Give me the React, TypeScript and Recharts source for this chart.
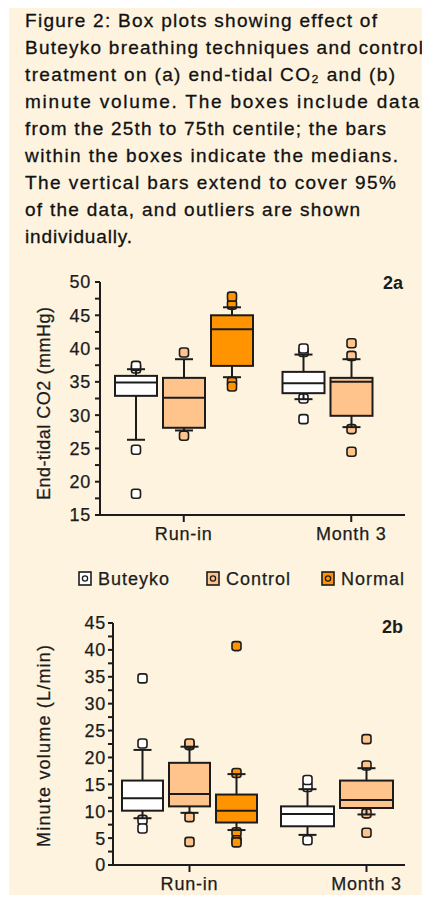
import React from 'react';
import { ComposedChart, Bar, XAxis, YAxis } from 'recharts';

const FONT = '"Liberation Sans", Arial, Helvetica, sans-serif';
const INK = '#1c1c1c';
const PANEL = '#FDF3DE';

const categories = ['Run-in', 'Month 3'];
const groups = ['Buteyko', 'Control', 'Normal'];
const groupFills = ['#FFFFFF', '#FFC38C', '#FF9400'];

// Caption text (one entry per printed line)
const captionLines = [
  'Figure 2: Box plots showing effect of',
  'Buteyko breathing techniques and control',
  'treatment on (a) end-tidal CO\u2082 and (b)',
  'minute volume. The boxes include data',
  'from the 25th to 75th centile; the bars',
  'within the boxes indicate the medians.',
  'The vertical bars extend to cover 95%',
  'of the data, and outliers are shown',
  'individually.',
];
const captionWidths = [352, 398, 370, 394, 361, 373, 371, 335, 107];

// 2a End-tidal CO2 (mmHg): [whisker low, Q1, median, Q3, whisker high] per category
const co2Buteyko = [[26.3, 32.9, 34.9, 35.9, 36.9], [32.4, 33.3, 34.8, 36.5, 39.1]];
const co2Control = [[27.7, 28.1, 32.6, 35.6, 38.4], [28.2, 29.9, 35.0, 35.6, 38.4]];
const co2Normal = [[35.7, 37.4, 42.9, 45.0, 46.2], null];
const co2ButeykoOutliers = [[37.0, 37.4, 24.8, 18.2], [39.5, 40.0, 32.5, 29.4]];
const co2ControlOutliers = [[39.4, 26.9], [38.9, 40.8, 27.9, 24.5]];
const co2NormalOutliers = [[46.6, 47.8, 35.0, 34.3], []];
const co2Ticks = [15, 17.5, 20, 22.5, 25, 27.5, 30, 32.5, 35, 37.5, 40, 42.5, 45, 47.5, 50];

// 2b Minute volume (L/min)
const mvButeyko = [[8.7, 10.1, 12.4, 15.7, 21.4], [5.6, 7.2, 9.5, 10.9, 14.1]];
const mvControl = [[9.7, 10.9, 13.2, 19.0, 22.0], [9.4, 10.6, 12.1, 15.7, 18.0]];
const mvNormal = [[6.5, 7.9, 10.1, 13.1, 16.9], null];
const mvButeykoOutliers = [[22.6, 34.7, 8.4, 6.8], [14.5, 15.8, 4.6]];
const mvControlOutliers = [[22.3, 22.6, 8.9, 4.3], [18.5, 23.4, 9.6, 6.0]];
const mvNormalOutliers = [[17.1, 40.7, 6.1, 4.6, 4.2], []];
const mvTicks = [0, 2.5, 5, 7.5, 10, 12.5, 15, 17.5, 20, 22.5, 25, 27.5, 30, 32.5, 35, 37.5, 40, 42.5, 45];

type Stats = number[] | null;

function buildRows(stats: Stats[][], outliers: number[][][]) {
  return categories.map((cat, ci) => {
    const row: any = { cat };
    groups.forEach((g, gi) => {
      const s = stats[gi][ci];
      row[g] = s ? [s[1], s[3]] : null;
      row[g + '_s'] = s;
      row[g + '_o'] = outliers[gi][ci] || [];
    });
    return row;
  });
}

const co2Rows = buildRows([co2Buteyko, co2Control, co2Normal], [co2ButeykoOutliers, co2ControlOutliers, co2NormalOutliers]);
const mvRows = buildRows([mvButeyko, mvControl, mvNormal], [mvButeykoOutliers, mvControlOutliers, mvNormalOutliers]);

function BoxPlotShape(props: any) {
  const { x, y, width, height, payload, group, active } = props;
  if (!active || !payload) return <g />;
  const s = payload[groups[group] + '_s'];
  if (!s || x == null || y == null) return <g />;
  const outs: number[] = payload[groups[group] + '_o'] || [];
  const [lo, q1, med, q3, hi] = s;
  const top = Math.min(y, y + height);
  const bot = Math.max(y, y + height);
  const toPx = (v: number) => bot - ((v - q1) / (q3 - q1)) * (bot - top);
  const cx = x + width / 2;
  const fill = groupFills[group];
  const cap = 9;
  const o = 4.5;
  return (
    <g>
      {outs.map((v, i) => (
        <rect key={i} x={cx - o} y={toPx(v) - o} width={o * 2} height={o * 2} rx={2.5} fill={fill} stroke={INK} strokeWidth={1.6} />
      ))}
      <line x1={cx} x2={cx} y1={toPx(hi)} y2={top} stroke={INK} strokeWidth={2} />
      <line x1={cx} x2={cx} y1={bot} y2={toPx(lo)} stroke={INK} strokeWidth={2} />
      <line x1={cx - cap} x2={cx + cap} y1={toPx(hi)} y2={toPx(hi)} stroke={INK} strokeWidth={2} />
      <line x1={cx - cap} x2={cx + cap} y1={toPx(lo)} y2={toPx(lo)} stroke={INK} strokeWidth={2} />
      <rect x={x} y={top} width={width} height={bot - top} fill={fill} stroke={INK} strokeWidth={2} />
      <line x1={x} x2={x + width} y1={toPx(med)} y2={toPx(med)} stroke={INK} strokeWidth={2} />
    </g>
  );
}

const axisTitle = (text: string, length: number, xPos: number, shift: number) => (props: any) => {
  const vb = props.viewBox || {};
  const cy = (vb.y ?? 0) + (vb.height ?? 0) / 2 + shift;
  return (
    <text
      x={xPos}
      y={cy}
      transform={`rotate(-90 ${xPos} ${cy})`}
      textAnchor="middle"
      textLength={length}
      lengthAdjust="spacing"
      fontSize={18}
      fontFamily={FONT}
      fill={INK}
      stroke={INK}
      strokeWidth={0.25}
    >
      {text}
    </text>
  );
};

type AxisDef = { id: string; cats: string[]; barSize: number; visible: boolean };

function Panel(props: {
  rows: any[];
  top: number;
  height: number;
  margin: any;
  yWidth: number;
  yDomain: number[];
  yTicks: number[];
  padding: { left: number; right: number };
  axes: AxisDef[];
  title: string;
  titleLength: number;
  titleShift: number;
  tickMarginY: number;
}) {
  const { rows, top, height, margin, yWidth, yDomain, yTicks, padding, axes, title, titleLength, titleShift, tickMarginY } = props;
  const axisStyle = { stroke: INK, strokeWidth: 2 };
  const tickFont = { fill: INK, fontSize: 18, fontFamily: FONT, letterSpacing: 0.8, stroke: INK, strokeWidth: 0.25 };
  return (
    <div style={{ position: 'absolute', left: 0, top, width: 430, height }}>
      <ComposedChart width={430} height={height} data={rows} margin={margin} barGap={6}>
        {axes.map((ax) => (
          <XAxis
            key={ax.id}
            xAxisId={ax.id}
            dataKey="cat"
            type="category"
            hide={!ax.visible}
            padding={padding}
            interval={0}
            height={ax.visible ? 30 : 0}
            tickSize={7}
            tickMargin={5}
            axisLine={axisStyle}
            tickLine={axisStyle}
            tick={tickFont}
          />
        ))}
        <YAxis
          type="number"
          domain={yDomain}
          ticks={yTicks}
          interval={0}
          width={yWidth}
          tickSize={5}
          tickMargin={tickMarginY}
          axisLine={axisStyle}
          tickLine={axisStyle}
          tick={tickFont}
          tickFormatter={(v: number) => (v % 5 === 0 ? String(v) : '')}
          label={axisTitle(title, titleLength, 50, titleShift)}
        />
        {axes.flatMap((ax) =>
          groups.map((g, gi) => (
            <Bar
              key={ax.id + g}
              xAxisId={ax.id}
              dataKey={(r: any) => (ax.cats.includes(r.cat) ? r[g] : null)}
              barSize={ax.barSize}
              isAnimationActive={false}
              shape={(p: any) => <BoxPlotShape {...p} group={gi} active={ax.cats.includes(p?.payload?.cat)} />}
            />
          ))
        )}
      </ComposedChart>
    </div>
  );
}

const legendX = [79, 207, 322];

export default function App() {
  return (
    <div
      style={{
        position: 'relative',
        width: 430,
        height: 897,
        marginTop: -8,
        marginLeft: -8,
        marginRight: -8,
        marginBottom: 0,
        background: '#FFFFFF',
        overflow: 'hidden',
        fontFamily: FONT,
      }}
    >
      <div style={{ position: 'absolute', left: 9, top: 4, width: 421, height: 891, background: PANEL }} />
      <Panel
        rows={co2Rows}
        top={262}
        height={285}
        margin={{ top: 20, right: 25, bottom: 2, left: 40 }}
        yWidth={60}
        yDomain={[15, 50]}
        yTicks={co2Ticks}
        padding={{ left: 0, right: -30 }}
        axes={[{ id: 'all', cats: categories, barSize: 42, visible: true }]}
        title="End-tidal CO2 (mmHg)"
        titleLength={193}
        titleShift={5}
        tickMarginY={4}
      />
      <Panel
        rows={mvRows}
        top={605}
        height={290}
        margin={{ top: 18, right: 25, bottom: 0, left: 40 }}
        yWidth={73}
        yDomain={[0, 45]}
        yTicks={mvTicks}
        padding={{ left: -12, right: -50 }}
        axes={[
          { id: 'run', cats: ['Run-in'], barSize: 41, visible: true },
          { id: 'm3', cats: ['Month 3'], barSize: 53, visible: false },
        ]}
        title="Minute volume (L/min)"
        titleLength={202}
        titleShift={2}
        tickMarginY={2}
      />
      <svg width={430} height={897} style={{ position: 'absolute', left: 0, top: 0, pointerEvents: 'none' }}>
        {captionLines.map((line, i) => (
          <text
            key={i}
            x={25}
            y={27 + 27 * i}
            fontSize={19}
            fontFamily={FONT}
            fill="#111"
            stroke="#111"
            strokeWidth={0.3}
            textLength={captionWidths[i]}
            lengthAdjust="spacing"
          >
            {line}
          </text>
        ))}
        <text x={403} y={289} textAnchor="end" fontSize={18} fontWeight="bold" fontFamily={FONT} fill={INK}>2a</text>
        <text x={403} y={633} textAnchor="end" fontSize={18} fontWeight="bold" fontFamily={FONT} fill={INK}>2b</text>
        {groups.map((g, gi) => (
          <g key={g}>
            <rect x={legendX[gi]} y={572} width={12} height={13} fill={groupFills[gi]} stroke={INK} strokeWidth={1.6} />
            <circle cx={legendX[gi] + 6} cy={578.5} r={2.6} fill="none" stroke={INK} strokeWidth={1.3} />
            <text
              x={legendX[gi] + 19}
              y={585}
              fontSize={18}
              fontFamily={FONT}
              fill={INK}
              stroke={INK}
              strokeWidth={0.25}
              letterSpacing={1}
            >
              {g}
            </text>
          </g>
        ))}
      </svg>
    </div>
  );
}
